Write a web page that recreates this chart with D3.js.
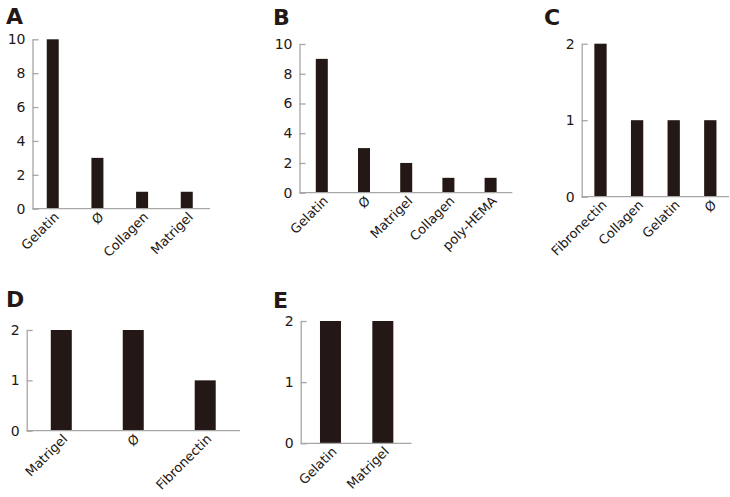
<!DOCTYPE html>
<html><head><meta charset="utf-8">
<script src="https://cdn.jsdelivr.net/npm/d3@7"></script>
<style>body{margin:0;background:#fff}svg{display:block}</style>
</head><body>
<svg id="chart" width="730" height="497"></svg>
<script>
const catsA = ["Gelatin", "Ø", "Collagen", "Matrigel"];
const valsA = [10, 3, 1, 1];
const ticksA = [0, 2, 4, 6, 8, 10];

const catsB = ["Gelatin", "Ø", "Matrigel", "Collagen", "poly-HEMA"];
const valsB = [9, 3, 2, 1, 1];
const ticksB = [0, 2, 4, 6, 8, 10];

const catsC = ["Fibronectin", "Collagen", "Gelatin", "Ø"];
const valsC = [2, 1, 1, 1];
const ticksC = [0, 1, 2];

const catsD = ["Matrigel", "Ø", "Fibronectin"];
const valsD = [2, 2, 1];
const ticksD = [0, 1, 2];

const catsE = ["Gelatin", "Matrigel"];
const valsE = [2, 2];
const ticksE = [0, 1, 2];

const panels = [
  {letter:"A", lx:6, ly:24, cats:catsA, vals:valsA, ticks:ticksA, max:10,
   ax:32.5, axEnd:210, y0:208.7, y1:39.3, band:[30.4,209.1], bw:12},
  {letter:"B", lx:273, ly:25, cats:catsB, vals:valsB, ticks:ticksB, max:10,
   ax:299.5, axEnd:512.3, y0:192.7, y1:44, band:[300.7,511.7], bw:12},
  {letter:"C", lx:544, ly:25, cats:catsC, vals:valsC, ticks:ticksC, max:2,
   ax:581.7, axEnd:729, y0:196.7, y1:43.7, band:[582.2,728.6], bw:12.3},
  {letter:"D", lx:6, ly:307, cats:catsD, vals:valsD, ticks:ticksD, max:2,
   ax:26.7, axEnd:240, y0:430.7, y1:330, band:[25.3,241.2], bw:21},
  {letter:"E", lx:273, ly:308, cats:catsE, vals:valsE, ticks:ticksE, max:2,
   ax:300.7, axEnd:411.5, y0:443.3, y1:321, band:[304.3,409], bw:21}
];

const svg = d3.select("#chart");
const ink = "#231815", axisCol = "#a6a6a6";
const font = "'DejaVu Sans', Verdana, sans-serif";

panels.forEach(p => {
  const g = svg.append("g");
  const x = d3.scaleBand().domain(p.cats).range(p.band);
  const y = d3.scaleLinear().domain([0, p.max]).range([p.y0, p.y1]);

  // panel letter
  g.append("text").attr("x", p.lx).attr("y", p.ly)
    .attr("font-family", font).attr("font-weight", "bold").attr("font-size", 22)
    .attr("fill", ink).text(p.letter);

  // bars
  g.selectAll("rect.bar").data(p.cats).enter().append("rect")
    .attr("x", (d) => x(d) + x.bandwidth()/2 - p.bw/2)
    .attr("width", p.bw)
    .attr("y", (d, i) => y(p.vals[i]))
    .attr("height", (d, i) => y(0) - y(p.vals[i]))
    .attr("fill", ink);

  // y axis
  const ya = g.append("g").attr("transform", `translate(${p.ax},0)`)
    .call(d3.axisLeft(y).tickValues(p.ticks).tickFormat(d3.format("d"))
      .tickSizeInner(-6).tickSizeOuter(0).tickPadding(7));
  ya.select(".domain").attr("stroke", axisCol).attr("stroke-width", 1.3);
  ya.selectAll(".tick line").attr("stroke", axisCol).attr("stroke-width", 1.3);
  ya.selectAll(".tick text").attr("font-family", font).attr("font-size", 14)
    .attr("fill", ink).attr("x", -7).attr("text-anchor", "end");

  // x axis line
  const xa = g.append("g").attr("transform", `translate(0,${p.y0})`)
    .call(d3.axisBottom(x).tickSize(0).tickPadding(0));
  xa.select(".domain").remove();
  g.append("line").attr("x1", p.ax).attr("x2", p.axEnd)
    .attr("y1", p.y0).attr("y2", p.y0)
    .attr("stroke", axisCol).attr("stroke-width", 1.3);
  xa.selectAll(".tick text")
    .attr("font-family", font).attr("font-size", 13).attr("fill", ink)
    .attr("text-anchor", "end").attr("dy", null).attr("y", null)
    .attr("transform", "translate(7,9) rotate(-45)");
});
</script>
</body></html>
